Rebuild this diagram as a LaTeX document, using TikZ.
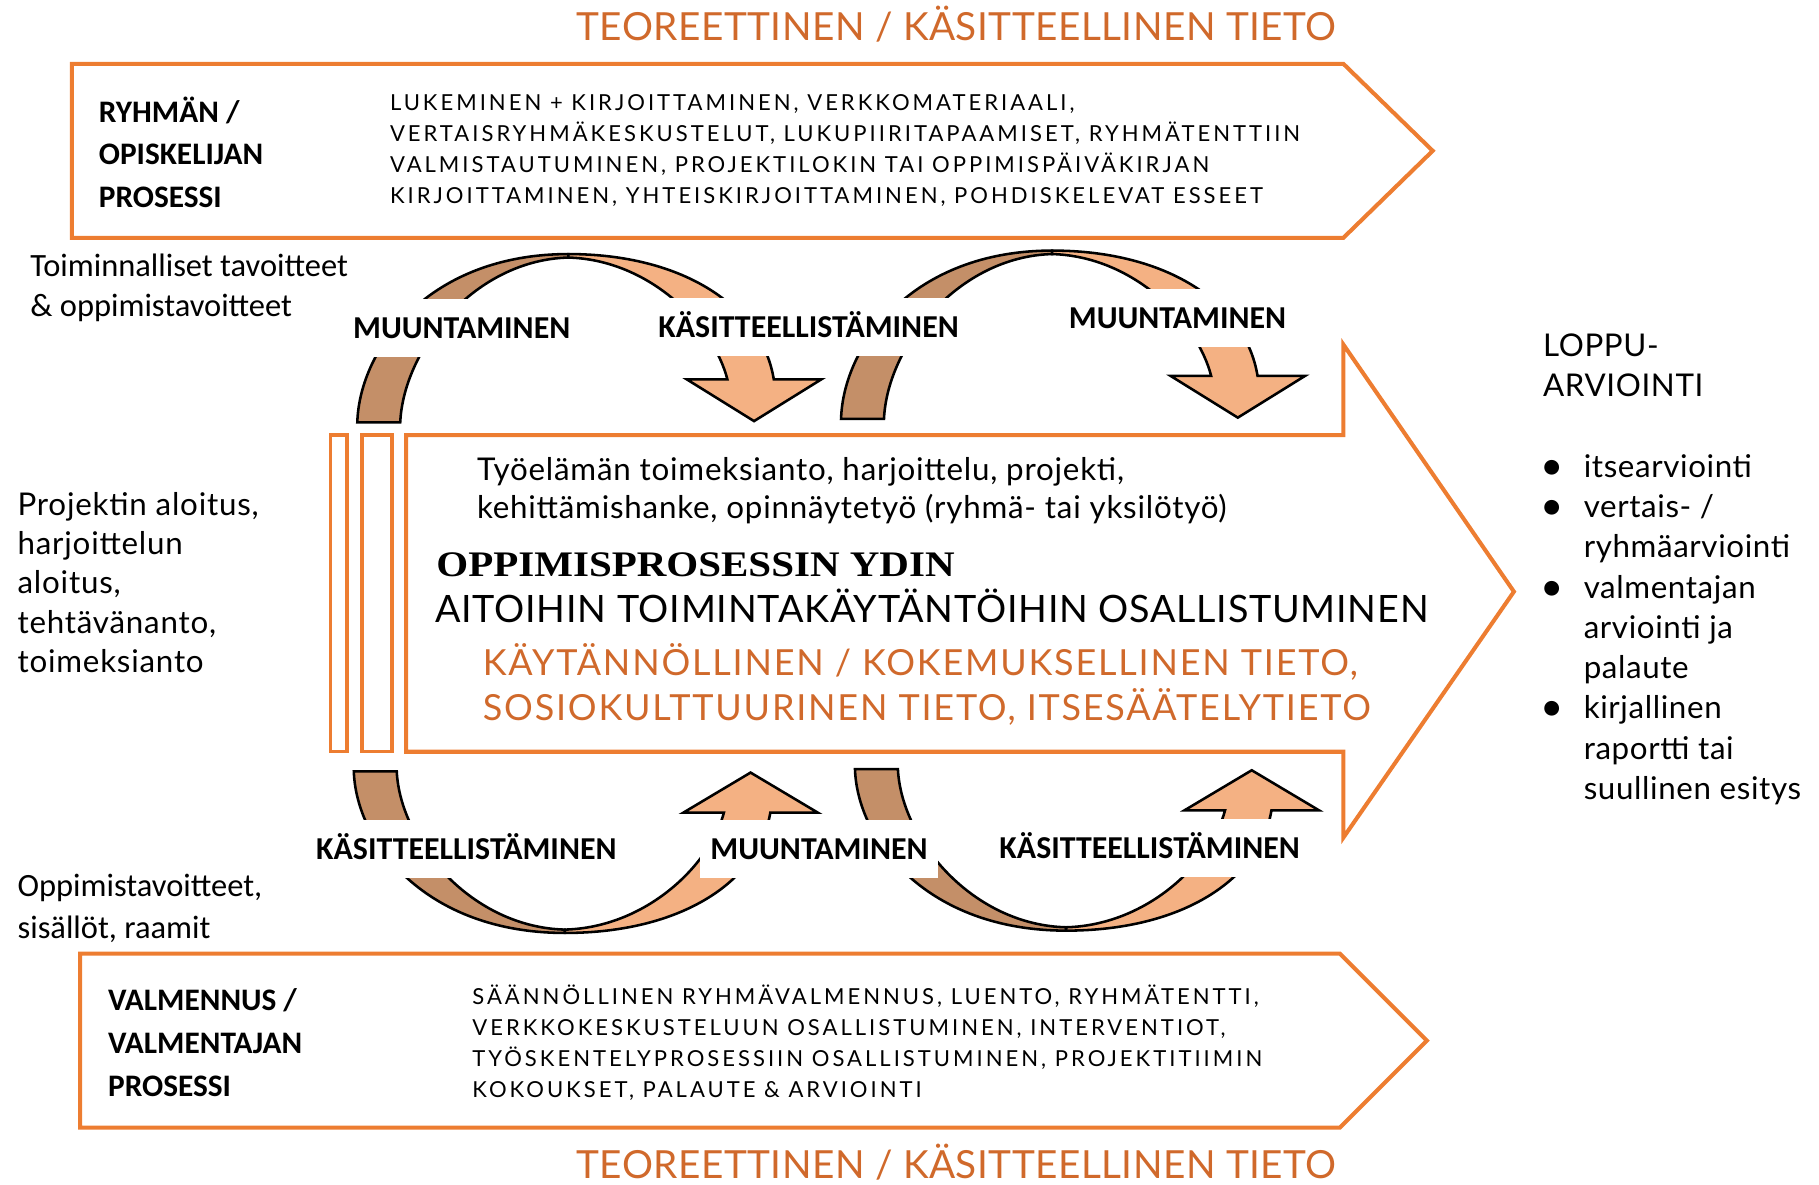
\documentclass[tikz,border=0pt]{standalone}
\usepackage{fontspec}
\setmainfont{Carlito}
\newfontfamily\lightfont{Lato}
\newfontfamily\serifbold{Liberation Serif}[FakeStretch=1.14]
\usetikzlibrary{calc}

\definecolor{procorange}{HTML}{ED7D31}
\definecolor{textorange}{HTML}{D0692B}
\definecolor{twistdark}{HTML}{C48F68}
\definecolor{twistlight}{HTML}{F4B183}

\newcommand{\bulitem}{\makebox[35pt][l]{{\normalfont\bfseries\fontsize{30}{30}\selectfont\textbullet}}}

\tikzset{
  twist/.pic={
    \draw[fill=twistdark] (0,0) .. controls (2,-64) and (62,-145) .. (182,-145)
      -- (182,-142) .. controls (102,-140) and (40,-64) .. (37,0) -- cycle;
    \draw[fill=twistlight] (182,-145) .. controls (282,-145) and (349,-99) .. (359,-37)
      -- (400,-37) -- (342,-1) -- (284,-37) -- (319,-37)
      .. controls (307,-84) and (252,-140) .. (182,-142) -- cycle;
  }
}

\begin{document}
\begin{tikzpicture}[x=1pt, y=-1pt,
    procline/.style={draw=procorange, line width=3.5pt, line join=miter},
    twistline/.style={line width=2.2pt, line join=miter},
    stagelabel/.style={fill=white, font=\fontsize{27.5}{33}\selectfont\bfseries,
      inner xsep=9pt, inner ysep=0pt, text height=18pt, text depth=0pt, minimum height=50pt},
    headlabel/.style={font=\fontsize{27}{36.5}\selectfont\bfseries, align=left,
      anchor=base west, inner sep=0pt},
    desctext/.style={font=\lightfont\addfontfeature{LetterSpace=13.6}\fontsize{19}{26.7}\selectfont,
      align=left, anchor=base west, inner sep=0pt},
    sidetext/.style={font=\lightfont\addfontfeature{LetterSpace=2.5}\fontsize{27}{34}\selectfont,
      align=left, anchor=base west, inner sep=0pt},
    notetext/.style={font=\fontsize{28}{34.6}\selectfont, align=left,
      anchor=base west, inner sep=0pt},
    titletext/.style={font=\lightfont\addfontfeature{LetterSpace=1.2}\fontsize{33.4}{40}\selectfont,
      text=textorange, anchor=base, inner sep=0pt}]
  \useasboundingbox (0,0) rectangle (1568,1021);

  % titles
  \node[titletext] (toptitle) at (824.5,34.5) {TEOREETTINEN / KÄSITTEELLINEN TIETO};
  \node[titletext] (bottitle) at (824.5,1016) {TEOREETTINEN / KÄSITTEELLINEN TIETO};

  % process arrows
  \coordinate (ta) at (62,55);
  \coordinate (tb) at (1158,55);
  \coordinate (tc) at (1235,130);
  \coordinate (td) at (1158,205);
  \coordinate (te) at (62,205);
  \draw[procline] (ta) -- (tb) -- (tc) -- (td) -- (te) -- cycle;
  \coordinate (ba) at (69,822);
  \coordinate (bb) at (1155,822);
  \coordinate (bc) at (1230,897);
  \coordinate (bd) at (1155,972);
  \coordinate (be) at (69,972);
  \draw[procline] (ba) -- (bb) -- (bc) -- (bd) -- (be) -- cycle;

  % core arrow
  \draw[procline] (350,375) -- (1158,375) -- (1158,297) -- (1305,510)
    -- (1158,722) -- (1158,648) -- (350,648) -- cycle;
  \draw[procline, line width=3pt] (285,375) rectangle (299,648);
  \draw[procline, line width=3pt] (312,375) rectangle (338,648);

  % twisted arrows
  \pic[twistline] (a1) at (308,364) {twist};
  \pic[twistline] (a2) at (725,361) {twist};
  \pic[twistline, yscale=-0.96] (b1) at (305,665) {twist};
  \pic[twistline, yscale=-0.96] (b2) at (737,663) {twist};

  \node[stagelabel] (muu1) at (398,282.5) {MUUNTAMINEN};
  \node[stagelabel] (kas1) at (697,282) {KÄSITTEELLISTÄMINEN};
  \node[stagelabel] (muu2) at (1015,274) {MUUNTAMINEN};
  \node[stagelabel] (kas2) at (402,732) {KÄSITTEELLISTÄMINEN};
  \node[stagelabel] (muu3) at (706,732) {MUUNTAMINEN};
  \node[stagelabel] (kas3) at (991,731) {KÄSITTEELLISTÄMINEN};

  % process texts (anchored at the baseline of the last line)
  \node[headlabel] (ryhma) at (85,178.5) {RYHMÄN /\\OPISKELIJAN\\PROSESSI};
  \node[desctext] (ryhmadesc) at (336,175) {LUKEMINEN + KIRJOITTAMINEN, VERKKOMATERIAALI,\\
    VERTAISRYHMÄKESKUSTELUT, LUKUPIIRITAPAAMISET, RYHMÄTENTTIIN\\
    VALMISTAUTUMINEN, PROJEKTILOKIN TAI OPPIMISPÄIVÄKIRJAN\\
    KIRJOITTAMINEN, YHTEISKIRJOITTAMINEN, POHDISKELEVAT ESSEET};
  \node[headlabel, font=\fontsize{27}{37}\selectfont\bfseries] (valm) at (93,945)
    {VALMENNUS /\\VALMENTAJAN\\PROSESSI};
  \node[desctext] (valmdesc) at (407,946) {SÄÄNNÖLLINEN RYHMÄVALMENNUS, LUENTO, RYHMÄTENTTI,\\
    VERKKOKESKUSTELUUN OSALLISTUMINEN, INTERVENTIOT,\\
    TYÖSKENTELYPROSESSIIN OSALLISTUMINEN, PROJEKTITIIMIN\\
    KOKOUKSET, PALAUTE \& ARVIOINTI};

  % side notes
  \node[notetext] (toim) at (26,272.6) {Toiminnalliset tavoitteet\\\& oppimistavoitteet};
  \node[notetext, font=\fontsize{28}{36}\selectfont] (oppi) at (15,809)
    {Oppimistavoitteet,\\sisällöt, raamit};
  \node[sidetext] (aloitus) at (15,580)
    {Projektin aloitus,\\harjoittelun\\aloitus,\\tehtävänanto,\\toimeksianto};

  % core texts
  \node[sidetext, font=\lightfont\addfontfeature{LetterSpace=2.5}\fontsize{27}{33}\selectfont]
    (tyo) at (411,447)
    {Työelämän toimeksianto, harjoittelu, projekti,\\
     kehittämishanke, opinnäytetyö (ryhmä- tai yksilötyö)};
  \node[anchor=base west, inner sep=0pt, font=\serifbold\bfseries\fontsize{31}{31}\selectfont]
    (ydin) at (376,497) {OPPIMISPROSESSIN YDIN};
  \node[sidetext, font=\lightfont\addfontfeature{LetterSpace=2}\fontsize{32.5}{32.5}\selectfont]
    (aito) at (375,537) {AITOIHIN TOIMINTAKÄYTÄNTÖIHIN OSALLISTUMINEN};
  \node[sidetext, font=\lightfont\addfontfeature{LetterSpace=5}\fontsize{31}{39}\selectfont,
    text=textorange] (kayt) at (416,621)
    {KÄYTÄNNÖLLINEN / KOKEMUKSELLINEN TIETO,\\
     SOSIOKULTTUURINEN TIETO, ITSESÄÄTELYTIETO};

  % final assessment
  \node[sidetext, font=\lightfont\addfontfeature{LetterSpace=2}\fontsize{27}{34.1}\selectfont]
    (loppu) at (1330,341.7) {LOPPU-\\ARVIOINTI};
  \node[sidetext, font=\lightfont\addfontfeature{LetterSpace=2}\fontsize{27}{34.7}\selectfont]
    (arvio) at (1330,689)
    {\bulitem itsearviointi\\
     \bulitem vertais- /\\
     \hspace*{35pt}ryhmäarviointi\\
     \bulitem valmentajan\\
     \hspace*{35pt}arviointi ja\\
     \hspace*{35pt}palaute\\
     \bulitem kirjallinen\\
     \hspace*{35pt}raportti tai\\
     \hspace*{35pt}suullinen esitys};
\end{tikzpicture}
\end{document}
